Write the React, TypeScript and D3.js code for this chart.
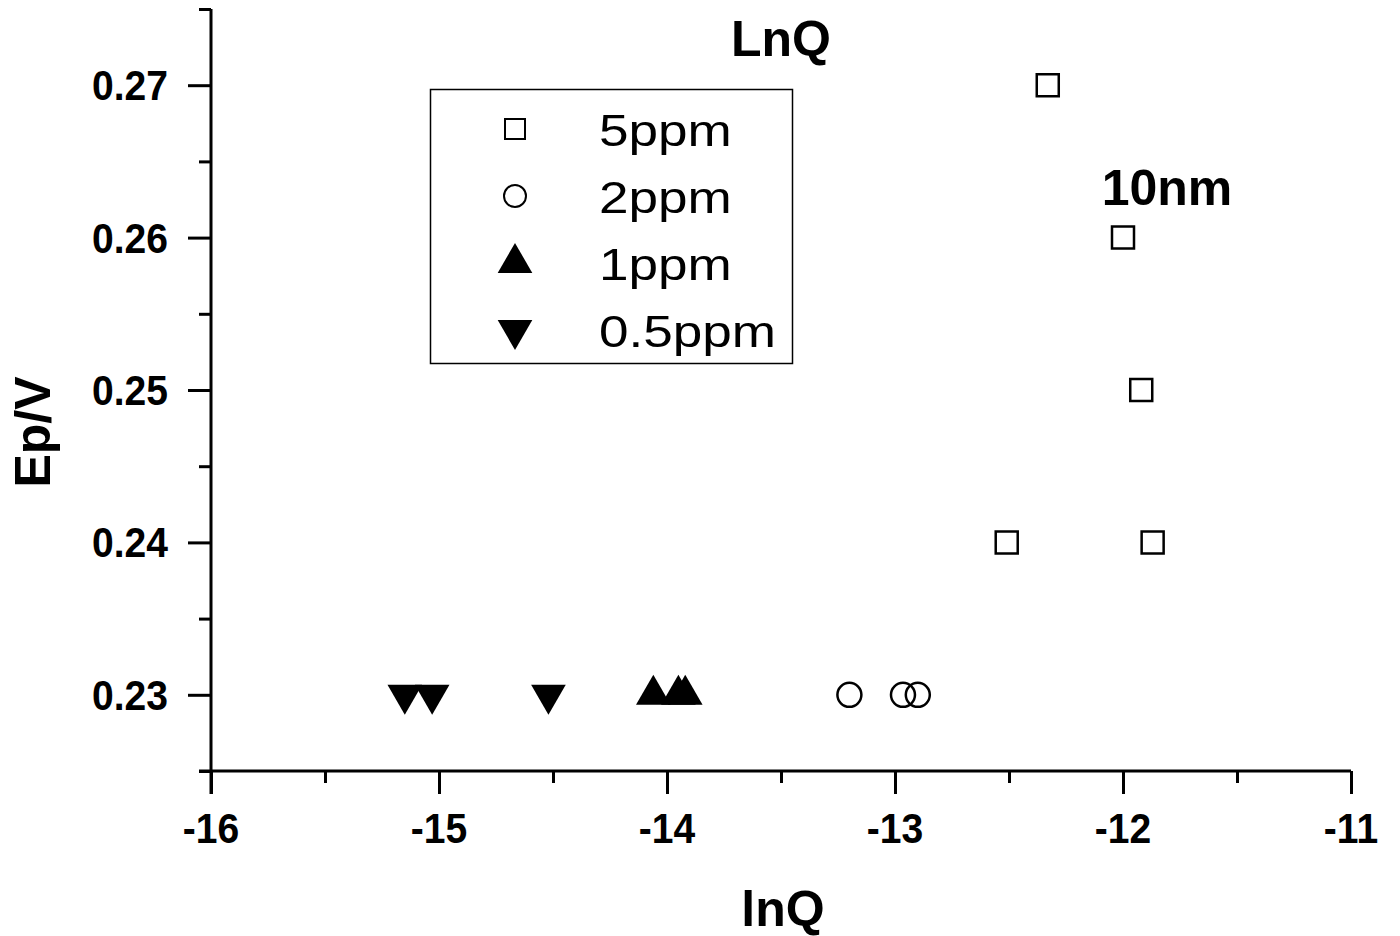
import React, {useRef, useEffect} from 'react';
import * as d3 from 'd3';

const seriesNames = ['5ppm', '2ppm', '1ppm', '0.5ppm'];
const x5ppm = [-12.33, -12.0, -11.92, -12.51, -11.87];
const y5ppm = [0.27, 0.26, 0.25, 0.24, 0.24];
const x2ppm = [-13.2, -12.965, -12.9];
const y2ppm = [0.23, 0.23, 0.23];
const x1ppm = [-14.06, -13.95, -13.92];
const y1ppm = [0.23, 0.23, 0.23];
const x05ppm = [-15.15, -15.03, -14.52];
const y05ppm = [0.23, 0.23, 0.23];
const xTicks = [-16, -15, -14, -13, -12, -11];
const yTicks = [0.23, 0.24, 0.25, 0.26, 0.27];

const FONT = '"Liberation Sans", Arial, sans-serif';

const App = () => {
    const svgRef = useRef(null);
    const width = 1400;
    const height = 936;

    useEffect(() => {
        const svg = d3.select(svgRef.current);
        svg.selectAll('*').remove();

        const left = 211, right = 1351, top = 9, bottom = 771;

        const x = d3.scaleLinear().domain([-16, -11]).range([left, right]);
        const y = d3.scaleLinear().domain([0.225, 0.275]).range([bottom, top]);

        // axes with major/minor ticks
        const xAxis = svg.append('g').attr('transform', `translate(0, ${bottom})`);
        xAxis.call(d3.axisBottom(x).tickValues(d3.range(-16, -10.9, 0.5)).tickSize(12).tickFormat(() => ''));
        xAxis.selectAll('.tick line')
            .attr('y2', d => (Number.isInteger(d) ? 23 : 12))
            .attr('stroke-width', 3);
        xAxis.select('.domain').attr('stroke-width', 3).attr('d', `M${left - 12},0H${right}`);

        const yAxis = svg.append('g').attr('transform', `translate(${left}, 0)`);
        yAxis.call(d3.axisLeft(y).tickValues(d3.range(0.225, 0.2751, 0.005)).tickSize(12).tickFormat(() => ''));
        yAxis.selectAll('.tick line')
            .attr('x2', (d, i) => (i % 2 === 1 ? -23 : -12))
            .attr('stroke-width', 3);
        yAxis.select('.domain').attr('stroke-width', 3).attr('d', `M0,${top}V${bottom + 23}`);

        // tick labels (slightly condensed bold)
        svg.append('g').selectAll('text').data(xTicks).join('text')
            .attr('transform', d => `translate(${x(d)},843) scale(0.93,1)`)
            .attr('text-anchor', 'middle')
            .attr('font-family', FONT)
            .attr('font-weight', 'bold')
            .attr('font-size', 42)
            .text(d => String(d));

        svg.append('g').selectAll('text').data(yTicks).join('text')
            .attr('transform', d => `translate(168,${y(d) + 15}) scale(0.93,1)`)
            .attr('text-anchor', 'end')
            .attr('font-family', FONT)
            .attr('font-weight', 'bold')
            .attr('font-size', 42)
            .text(d => d.toFixed(2));

        // titles
        const title = (tx, ty, s, rot = 0) => svg.append('text')
            .attr('transform', `translate(${tx},${ty}) rotate(${rot})`)
            .attr('text-anchor', 'middle')
            .attr('font-family', FONT)
            .attr('font-weight', 'bold')
            .attr('font-size', 50)
            .text(s);
        title(783, 926, 'lnQ');
        title(50, 432, 'Ep/V', -90);
        title(781, 56, 'LnQ');
        title(1167, 205, '10nm');

        // symbols
        const sq = d3.symbol().type(d3.symbolSquare).size(22 * 22);
        const circ = d3.symbol().type(d3.symbolCircle).size(Math.PI * 12 * 12);
        const tri = d3.symbol().type(d3.symbolTriangle).size(520);

        const drawSeries = (xs, ys, gen, fill, rot = 0) => {
            svg.append('g').selectAll('path').data(xs).join('path')
                .attr('transform', (d, i) => `translate(${x(d)},${y(ys[i])}) rotate(${rot})`)
                .attr('d', gen)
                .attr('fill', fill)
                .attr('stroke', '#000')
                .attr('stroke-width', fill === 'none' ? 2.5 : 0);
        };
        drawSeries(x5ppm, y5ppm, sq, 'none');
        drawSeries(x2ppm, y2ppm, circ, 'none');
        drawSeries(x1ppm, y1ppm, tri, '#000');
        drawSeries(x05ppm, y05ppm, tri, '#000', 180);

        // legend
        const legend = svg.append('g');
        legend.append('rect')
            .attr('x', 430.5).attr('y', 89.5)
            .attr('width', 362).attr('height', 274)
            .attr('fill', 'none').attr('stroke', '#000').attr('stroke-width', 1.5);
        const legendGens = [
            {gen: d3.symbol().type(d3.symbolSquare).size(20 * 20), fill: 'none', rot: 0},
            {gen: d3.symbol().type(d3.symbolCircle).size(Math.PI * 11 * 11), fill: 'none', rot: 0},
            {gen: tri, fill: '#000', rot: 0},
            {gen: tri, fill: '#000', rot: 180},
        ];
        seriesNames.forEach((name, i) => {
            const cy = 129 + i * 67;
            const lg = legendGens[i];
            legend.append('path')
                .attr('transform', `translate(515,${cy}) rotate(${lg.rot})`)
                .attr('d', lg.gen)
                .attr('fill', lg.fill)
                .attr('stroke', '#000')
                .attr('stroke-width', lg.fill === 'none' ? 2 : 0);
            legend.append('text')
                .attr('transform', `translate(599,${cy + 17}) scale(1.18,1)`)
                .attr('font-family', FONT)
                .attr('font-size', 45)
                .text(name);
        });
    }, []);

    return (
        <svg ref={svgRef} width={width} height={height}
             style={{position: 'absolute', left: 0, top: 0, background: '#fff'}}/>
    );
};

export default App;
